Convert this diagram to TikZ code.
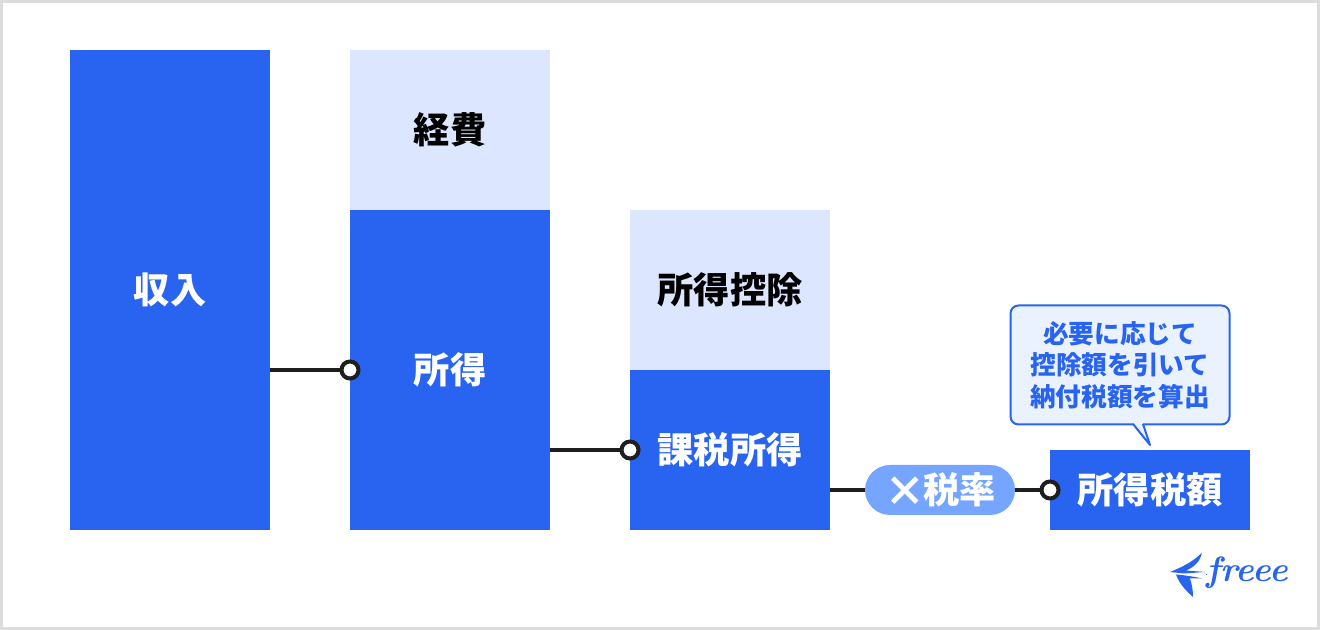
\documentclass[tikz,border=0pt]{standalone}
\usepackage{fontspec}
\newfontfamily\jpfont{Noto Sans CJK JP}
\usetikzlibrary{calc}
\definecolor{freeeblue}{HTML}{2864F0}
\definecolor{paleblue}{HTML}{DCE7FF}
\definecolor{pillblue}{HTML}{75A5FF}
\definecolor{bubbleblue}{HTML}{EAF2FF}
\definecolor{framegray}{HTML}{DCDCDC}
\definecolor{inkblack}{HTML}{1E1E1E}
\tikzset{
    bar/.style={rectangle,minimum width=2cm,inner sep=0pt,outer sep=0pt,fill=freeeblue,text=white,
        font=\jpfont\bfseries\fontsize{10.3}{12}\selectfont},
    palebar/.style={bar,fill=paleblue,text=black},
    dot/.style={circle,draw=inkblack,fill=white,line width=0.04cm,minimum size=0.17cm,inner sep=0pt},
    link/.style={draw=inkblack,line width=0.04cm},
}
\begin{document}
\begin{tikzpicture}

            \useasboundingbox (0,0) rectangle (13.2,6.3);
            \draw[framegray,line width=0.03cm,fill=white] (0.015,0.015) rectangle (13.185,6.285);

            \path   (1.7,3.4) node (income) [bar,minimum height=4.8cm] {収入}
                    (4.5,5.0) node (expense) [palebar,minimum height=1.6cm] {経費}
                    (4.5,2.6) node (earned) [bar,minimum height=3.2cm] {所得}
                    (7.3,3.4) node (deduction) [palebar,minimum height=1.6cm] {所得控除}
                    (7.3,1.8) node (taxable) [bar,minimum height=1.6cm] {課税所得}
                    (11.5,1.4) node (taxdue) [bar,minimum height=0.8cm] {所得税額}
                    (9.29,1.4) node (rate) [bar,fill=none,minimum width=0pt] {};

            \path   (9.4,1.4) node (rate) [bar,fill=pillblue,minimum width=1.5cm,minimum height=0.5cm,rounded corners=0.25cm] {\raisebox{-0.7pt}{\fontsize{11.8}{12}\selectfont ×}\hspace{-0.6pt}税率};

            \path   (3.5,2.6) node (dota) [dot] {}
                    (6.3,1.8) node (dotb) [dot] {}
                    (10.5,1.4) node (dotc) [dot] {};

            \draw[link] (income.east |- dota) -- (dota);
            \draw[link] (earned.east |- dotb) -- (dotb);
            \draw[link] (taxable.east |- rate) -- (rate);
            \draw[link] (rate) -- (dotc);

            % speech bubble
            \path (11.2,2.65) node (note) [rectangle,draw=freeeblue,fill=bubbleblue,line width=0.02cm,rounded corners=0.08cm,
                    minimum width=2.19cm,minimum height=1.19cm,inner sep=0pt,outer sep=0pt,align=center,text=freeeblue,
                    font=\jpfont\bfseries\fontsize{7.3}{8.9}\selectfont] {必要に応じて\\控除額を引いて\\納付税額を算出};
            \coordinate (tip) at (11.5,1.85);
            \fill[bubbleblue] (11.34,2.03) -- (tip) -- (11.43,2.03) -- (11.43,2.08) -- (11.34,2.08) -- cycle;
            \draw[freeeblue,line width=0.02cm,line join=round] (11.33,2.06) -- (tip) -- (11.43,2.06);

            % logo
            \fill[freeeblue] (11.70,0.58) .. controls (11.85,0.64) and (11.95,0.70) .. (12.02,0.775)
                .. controls (12.00,0.68) and (11.94,0.63) .. (11.86,0.595) -- (12.05,0.58) -- (11.84,0.565) -- cycle;
            \fill[freeeblue] (11.76,0.555) .. controls (11.84,0.55) and (11.95,0.53) .. (12.03,0.515)
                -- (11.90,0.515) .. controls (11.92,0.45) and (11.93,0.40) .. (11.93,0.33)
                .. controls (11.85,0.40) and (11.79,0.47) .. (11.76,0.555) -- cycle;
            \path (12.47,0.57) node (logo) [inner sep=0pt,text=freeeblue,font=\itshape\bfseries\fontsize{10}{12}\selectfont] {freee};
            \draw[freeeblue,line width=0.015cm] (12.07,0.555) -- (logo.west |- 0,0.555);

\end{tikzpicture}
\end{document}
